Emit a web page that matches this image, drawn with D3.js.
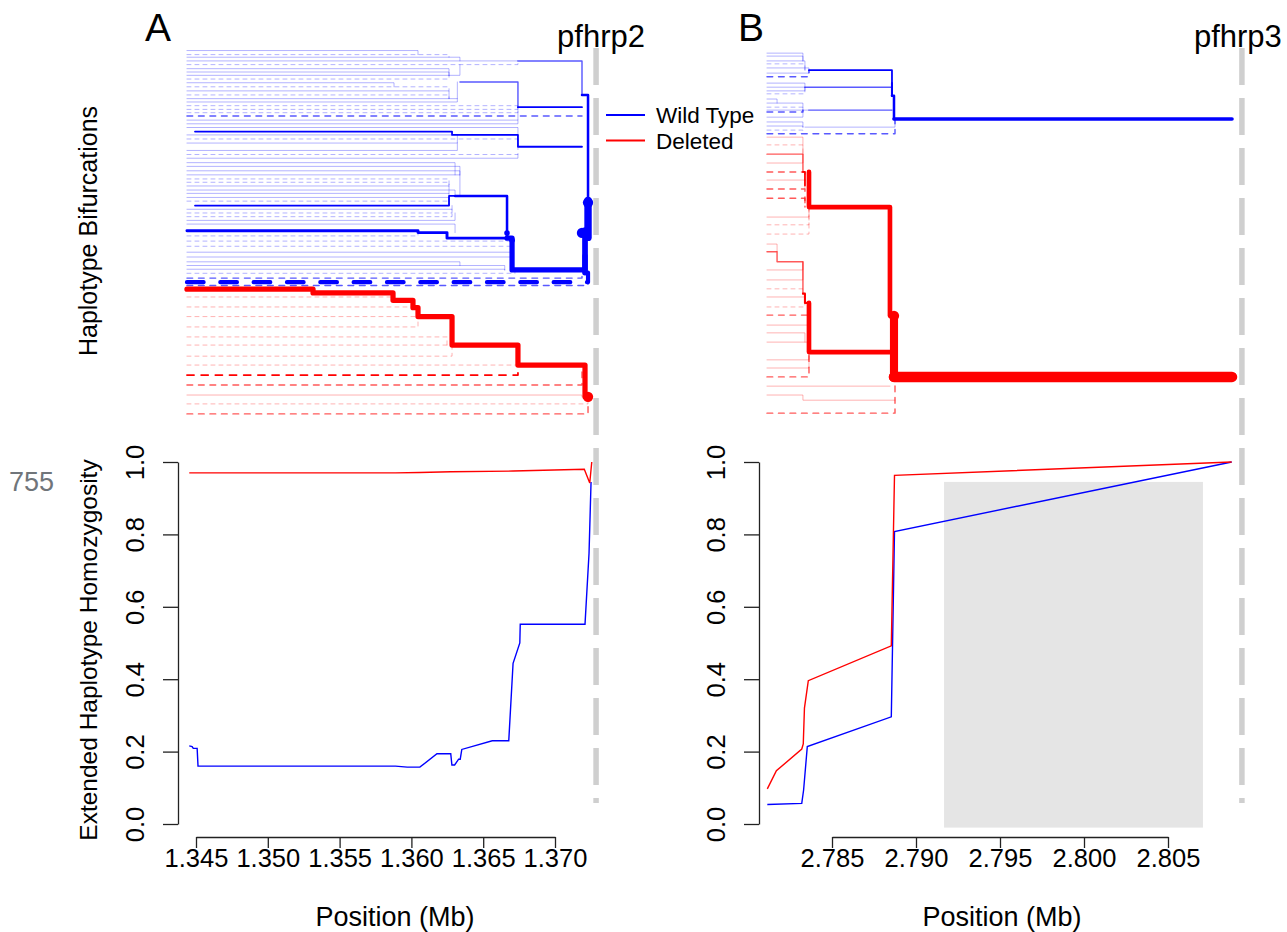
<!DOCTYPE html>
<html><head><meta charset="utf-8">
<script src="https://cdn.jsdelivr.net/npm/d3@7"></script>
<style>
body{margin:0;background:#fff}
svg{display:block}
text{font-family:"Liberation Sans",Arial,Helvetica,sans-serif;fill:#000}
</style>
</head><body>
<svg id="c" width="1287" height="932"></svg>
<script>
// ---------------- DATA ----------------
const startA = 1.34437, startB = 2.78113;     // left end of haplotypes (Mb)
const geneA = 1.37286, geneB = 2.80940;       // pfhrp2 / pfhrp3 position (Mb)
const ticksA = [1.345, 1.350, 1.355, 1.360, 1.365, 1.370];
const ticksB = [2.785, 2.790, 2.795, 2.800, 2.805];
const ehhTicks = [0, 0.2, 0.4, 0.6, 0.8, 1.0];
const groups = ["Wild Type", "Deleted"];
const greyBox = [2.79167, 2.80708, -0.01, 0.945];

// EHH curves [position Mb, EHH]
const ehhA_wt = [[1.34453,0.216],[1.34473,0.214],[1.34481,0.209],[1.34508,0.209],[1.34514,0.160],[1.35889,0.160],[1.35971,0.157],[1.36059,0.157],[1.36178,0.194],[1.36274,0.194],[1.36282,0.163],[1.36301,0.163],[1.36329,0.179],[1.36340,0.179],[1.36351,0.206],[1.36563,0.230],[1.36678,0.230],[1.36708,0.444],[1.36755,0.500],[1.36758,0.552],[1.37209,0.552],[1.37237,0.748],[1.37251,0.945]];
const ehhA_del = [[1.34453,0.970],[1.35889,0.970],[1.36059,0.971],[1.36274,0.973],[1.36708,0.975],[1.37204,0.980],[1.37242,0.942],[1.37256,1.0]];
const ehhB_wt = [[2.78115,0.054],[2.78320,0.057],[2.78331,0.094],[2.78353,0.214],[2.78853,0.296],[2.78872,0.808],[2.80879,1.0]];
const ehhB_del = [[2.78115,0.097],[2.78169,0.147],[2.78320,0.207],[2.78329,0.221],[2.78336,0.320],[2.78359,0.396],[2.78853,0.492],[2.78872,0.963],[2.80879,1.0]];

// Bifurcation leaves: [row, split position Mb, row joined, haplotype count, dashed]
const leavesA_wt = [
[1.5,1.36046,2.6,1,0],[2.6,1.36262,3.3,1,1],[3.3,1.36338,4.3,1,0],[4.3,1.36742,4.3,1,0],[5.3,1.36742,4.3,1,1],
[6.4,1.36262,8.2,1,0],[7.3,1.36262,8.2,1,0],[8.2,1.36338,5.3,1,0],[9.2,1.36262,8.2,1,1],[10.2,1.35879,11.3,1,0],
[11.3,1.36262,12.4,1,1],[12.4,1.36262,14.5,1,0],[13.5,1.36262,14.5,1,1],[14.5,1.36320,10.0,1,0],[15.4,1.36320,14.5,1,0],
[16.4,1.36742,16.8,1,1],[17.4,1.36742,16.8,1,1],[18.3,1.36742,16.8,1,1],[20.3,1.36742,16.8,1,0],[21.3,1.36742,20.3,1,0],
[22.3,1.36742,24.3,1,0],[24.3,1.36742,27.5,1,0],[25.4,1.36742,27.5,1,1],[26.5,1.36320,24.3,1,0],[28.5,1.36320,26.5,1,0],
[29.6,1.36742,27.5,1,1],[30.6,1.36742,29.6,1,0],[31.8,1.36304,35.1,1,0],[32.8,1.36338,35.1,1,0],[34.0,1.36338,35.1,1,0],
[35.1,1.36338,40.8,1,0],[36.2,1.36262,38.1,1,1],[37.1,1.36262,38.1,1,1],[38.1,1.36262,40.1,1,0],[39.2,1.36304,40.8,1,0],
[40.1,1.36262,43.4,1,0],[41.2,1.36262,43.4,1,0],[42.2,1.36262,43.4,1,1],[44.4,1.36283,43.4,1,0],[45.4,1.36283,44.4,1,1],
[46.4,1.36283,44.4,1,1],[47.4,1.36304,45.4,1,0],[48.4,1.36304,50.7,1,0],[51.6,1.36046,50.7,1,1],[53.0,1.36701,55,1,1],
[54.4,1.36701,55,1,1],[56.0,1.36701,57.3,1,0],[57.3,1.36701,60.8,1,0],[58.6,1.36338,59.6,1,0],[59.6,1.36650,60.8,1,0],
[60.6,1.36650,60.8,1,0],[61.7,1.36721,60.8,1,1],[65.0,1.37230,64.1,2,1]
];
const leavesA_del = [
[68.1,1.35872,67,1,1],[70.8,1.36011,69,1,1],[73.4,1.36046,73.4,1,1],[76.2,1.36046,73.4,1,1],[78.9,1.36248,81.1,1,1],
[81.1,1.36283,81.1,1,1],[84.1,1.36283,81.1,1,1],[86.5,1.36742,86.5,1,1],[89.2,1.36742,86.5,3,1],[91.9,1.37188,86.5,2,1],
[94.6,1.37188,95.1,1,0],[97.0,1.37230,95.1,1,1],[99.7,1.37230,95.1,2,1]
];
const branchesA = [
{g:"wt",n:2,dash:0,pts:[[1.36742,4.3],[1.37188,4.3],[1.37188,13.5]]},
{g:"wt",n:2,dash:0,pts:[[1.36338,10],[1.36742,10],[1.36742,16.8]]},
{g:"wt",n:3,dash:0,pts:[[1.36742,16.8],[1.37188,16.8]]},
{g:"wt",n:2,dash:1,pts:[[1.34437,19.2],[1.37188,19.2]]},
{g:"wt",n:3,dash:0,pts:[[1.34493,23.4],[1.36283,23.4],[1.36283,24.3],[1.36742,24.3],[1.36742,27.5],[1.37188,27.5]]},
{g:"wt",n:3,dash:0,pts:[[1.34493,43.4],[1.36262,43.4],[1.36262,40.8],[1.36304,40.8]]},
{g:"wt",n:6,dash:0,pts:[[1.36304,40.8],[1.36666,40.8],[1.36666,52.2]]},
{g:"wt",n:8,dash:0,pts:[[1.34437,50.2],[1.36046,50.2],[1.36046,50.7],[1.36248,50.7],[1.36248,52.2],[1.36666,52.2]]},
{g:"wt",n:25,dash:0,pts:[[1.36666,52.2],[1.36701,52.2],[1.36701,60.8],[1.37209,60.8],[1.37209,57]]},
{g:"wt",n:2,dash:1,pts:[[1.34437,63.0],[1.37188,63.0],[1.37188,61]]},
{g:"wt",n:16,dash:1,pts:[[1.34437,64.1],[1.37230,64.1],[1.37230,61.5]]},
{g:"wt",n:6,dash:0,pts:[[1.37188,13.5],[1.37230,13.5],[1.37230,42]]},
{g:"wt",n:50,dash:0,pts:[[1.37230,42],[1.37230,52]]},
{g:"wt",n:30,dash:0,pts:[[1.37209,50],[1.37209,61.5]]},
{g:"del",n:25,dash:0,pts:[[1.34437,66.0],[1.35315,66.0],[1.35315,67],[1.35872,67],[1.35872,69],[1.36011,69],[1.36011,71],[1.36046,71],[1.36046,73.4],[1.36283,73.4],[1.36283,81.1],[1.36742,81.1],[1.36742,86.5],[1.37209,86.5],[1.37209,95.1]]}
];
// nodes [position, row, group, count]
const nodesA = [[1.37230,42.6,"wt",40],[1.37188,50.8,"wt",40],[1.36666,50.8,"wt",12],[1.36701,52.8,"wt",12],[1.37230,95.1,"del",40]];

const leavesB_wt = [
[2.2,2.78327,4.3,1,0],[3.0,2.78327,4.3,1,0],[4.3,2.78339,6.8,1,0],[5.1,2.78339,6.8,1,1],[6.2,2.78363,6.8,1,0],
[7.6,2.78363,6.8,1,0],[8.6,2.78363,6.8,2,1],[10.3,2.78339,11.4,1,0],[11.4,2.78339,11.4,1,0],[12.4,2.78339,11.4,1,0],
[13.2,2.78339,11.4,1,1],[14.6,2.78173,15.7,1,0],[15.7,2.78327,17.6,1,0],[16.8,2.78327,17.6,1,1],[17.6,2.78363,17.6,1,0],
[18.1,2.78327,17.6,2,1],[19.5,2.78327,17.6,1,0],[20.8,2.78327,22.2,1,0],[21.9,2.78327,22.2,1,0],[23.0,2.78327,24,1,1]
];
const leavesB_del = [
[24.9,2.78327,29.5,1,0],[27.0,2.78327,29.5,1,1],[31.9,2.78327,29.5,1,0],[34.3,2.78339,36.5,2,1],[36.5,2.78339,38.9,1,0],
[38.9,2.78339,43.8,2,1],[41.4,2.78339,43.8,2,1],[46.5,2.78363,43.8,1,0],[48.6,2.78363,43.8,1,1],[51.1,2.78363,43.8,1,1],
[53.8,2.78173,55.9,1,0],[60.8,2.78327,58.6,1,0],[63.5,2.78327,58.6,1,0],[65.9,2.78327,67.2,1,1],[68.1,2.78339,69.7,1,0],
[70.8,2.78339,69.7,1,1],[73.0,2.78363,73.0,2,1],[75.7,2.78363,77.8,1,0],[77.8,2.78339,80.3,1,0],[80.3,2.78363,83,1,0],
[85.1,2.78363,83,1,0],[87.3,2.78363,83,1,0],[89.7,2.78363,83,2,1]
];
const branchesB = [
{g:"wt",n:3,dash:0,pts:[[2.78363,6.8],[2.78857,6.8],[2.78857,10.3]]},
{g:"wt",n:2,dash:0,pts:[[2.78339,11.4],[2.78857,11.4]]},
{g:"wt",n:2,dash:0,pts:[[2.78363,17.6],[2.78857,17.6]]},
{g:"wt",n:1,dash:0,pts:[[2.78339,22.2],[2.78875,22.2],[2.78875,20]]},
{g:"wt",n:2,dash:1,pts:[[2.78113,24],[2.78875,24],[2.78875,20]]},
{g:"wt",n:4,dash:0,pts:[[2.78857,10.3],[2.78857,13.7]]},
{g:"wt",n:6,dash:0,pts:[[2.78857,13.7],[2.78869,13.7],[2.78869,20]]},
{g:"wt",n:12,dash:0,pts:[[2.78869,20],[2.80881,20]]},
{g:"del",n:2,dash:0,pts:[[2.78113,29.5],[2.78327,29.5],[2.78327,34.3]]},
{g:"del",n:3,dash:0,pts:[[2.78327,34.3],[2.78339,34.3],[2.78339,38]]},
{g:"del",n:20,dash:0,pts:[[2.78363,34.3],[2.78363,43.8],[2.78845,43.8],[2.78845,73.2]]},
{g:"del",n:2,dash:0,pts:[[2.78113,55.9],[2.78173,55.9],[2.78173,58.6],[2.78327,58.6],[2.78327,67.2]]},
{g:"del",n:4,dash:0,pts:[[2.78327,67.2],[2.78339,67.2],[2.78339,69.7],[2.78363,69.7]]},
{g:"del",n:20,dash:0,pts:[[2.78363,69.7],[2.78363,83],[2.78845,83]]},
{g:"del",n:60,dash:0,pts:[[2.78869,73.2],[2.78869,89.7]]},
{g:"del",n:100,dash:0,pts:[[2.78869,89.7],[2.80881,89.7]]},
{g:"del",n:1,dash:0,pts:[[2.78113,92.2],[2.78845,92.2]]},
{g:"del",n:1,dash:0,pts:[[2.78113,94.6],[2.78327,94.6],[2.78327,96],[2.78875,96]]},
{g:"del",n:2,dash:1,pts:[[2.78113,99.5],[2.78875,99.5],[2.78875,89.7]]}
];
const nodesB = [[2.78869,73.2,"del",40],[2.78869,89.7,"del",40]];

// ---------------- DRAWING ----------------
const svg = d3.select("#c");
const col = {wt:"#0000ff", del:"#ff0000"};
const xA = d3.scaleLinear().domain([1.345,1.370]).range([196,555]);
const xB = d3.scaleLinear().domain([2.785,2.805]).range([832,1168]);
const yT = d3.scaleLinear().domain([0,100]).range([45,415]);
const yE = d3.scaleLinear().domain([0,1]).range([824,462]);
const wS = d3.scaleSqrt().domain([1,100]).range([1,10.5]);
const oS = d3.scaleLinear().domain([1,3]).range([0.3,1]).clamp(true);

function drawTree(x, start, leaves, branches, nodes){
  const segs = [];
  Object.entries(leaves).forEach(([g,arr]) => arr.forEach(([r,e,j,n,d]) =>
    segs.push({g, n, dash:d, pts:[[start,r],[e,r],[e,j]]})));
  branches.forEach(b => segs.push(b));
  segs.sort((a,b) => a.n - b.n);
  const line = d3.line().x(d => x(d[0])).y(d => yT(d[1]));
  const g = svg.append("g");
  g.selectAll("path").data(segs).join("path")
    .attr("d", d => line(d.pts)).attr("fill","none")
    .attr("stroke", d => col[d.g]).attr("stroke-opacity", d => oS(d.n))
    .attr("stroke-width", d => wS(d.n))
    .attr("stroke-linecap","round").attr("stroke-linejoin","round")
    .attr("stroke-dasharray", d => d.dash ? `${4*wS(d.n)},${4*wS(d.n)}` : null);
  g.selectAll("circle").data(nodes).join("circle")
    .attr("cx", d => x(d[0])).attr("cy", d => yT(d[1]))
    .attr("r", d => wS(d[3])*0.78).attr("fill", d => col[d[2]]);
}

function drawEhh(x, ticks, axisX, wt, del){
  const g = svg.append("g");
  const line = d3.line().x(d => x(d[0])).y(d => yE(d[1]));
  g.append("path").attr("d", line(wt)).attr("fill","none").attr("stroke",col.wt).attr("stroke-width",1.4);
  g.append("path").attr("d", line(del)).attr("fill","none").attr("stroke",col.del).attr("stroke-width",1.4);
  const ya = g.append("g").attr("transform",`translate(${axisX},0)`)
    .call(d3.axisLeft(yE).tickValues(ehhTicks).tickSize(15).tickSizeOuter(0).tickFormat(d3.format(".1f")));
  ya.selectAll("text").attr("x",null).attr("dy",null)
    .attr("transform","translate(-34,0) rotate(-90)").attr("text-anchor","middle");
  const xa = g.append("g").attr("transform",`translate(0,837)`)
    .call(d3.axisBottom(x).tickValues(ticks).tickSize(11).tickSizeOuter(0).tickFormat(d3.format(".3f")));
  xa.selectAll("text").attr("y",30).attr("dy",null);
  [ya,xa].forEach(a => {
    a.attr("font-size",25.5).attr("font-family",null);
    a.selectAll("path,line").attr("stroke","#222").attr("stroke-width",1.3);
    a.selectAll("text").attr("fill","#111");
  });
}

// grey region (panel B)
svg.append("rect").attr("x",xB(greyBox[0])).attr("width",xB(greyBox[1])-xB(greyBox[0]))
  .attr("y",yE(greyBox[3])).attr("height",yE(greyBox[2])-yE(greyBox[3])).attr("fill","#e5e5e5");

drawTree(xA, startA, {wt:leavesA_wt, del:leavesA_del}, branchesA, nodesA);
drawTree(xB, startB, {wt:leavesB_wt, del:leavesB_del}, branchesB, nodesB);
drawEhh(xA, ticksA, 178, ehhA_wt, ehhA_del);
drawEhh(xB, ticksB, 759, ehhB_wt, ehhB_del);

// gene positions
[[xA,geneA,"pfhrp2",5],[xB,geneB,"pfhrp3",-4]].forEach(([x,p,name,dx]) => {
  svg.append("line").attr("x1",x(p)).attr("x2",x(p)).attr("y1",yT(0.8)).attr("y2",yE(0.058))
    .attr("stroke","#cfcfcf").attr("stroke-width",5.5).attr("stroke-dasharray","37,13");
  svg.append("text").attr("x",x(p)+dx).attr("y",47).attr("text-anchor","middle").attr("font-size",31).text(name);
});

// panel letters
svg.append("text").attr("x",145).attr("y",41).attr("font-size",39).text("A");
svg.append("text").attr("x",738).attr("y",41).attr("font-size",39).text("B");

// axis titles
svg.append("text").attr("transform","translate(97,231) rotate(-90)").attr("text-anchor","middle").attr("font-size",25).text("Haplotype Bifurcations");
svg.append("text").attr("transform","translate(97,650) rotate(-90)").attr("text-anchor","middle").attr("font-size",24.5).text("Extended Haplotype Homozygosity");
svg.append("text").attr("x",395).attr("y",926).attr("text-anchor","middle").attr("font-size",27).text("Position (Mb)");
svg.append("text").attr("x",1002).attr("y",926).attr("text-anchor","middle").attr("font-size",27).text("Position (Mb)");

// stray label
svg.append("text").attr("x",9).attr("y",491).attr("font-size",27).attr("font-family","Roboto").style("fill","#70757a").text("755");

// legend
const leg = svg.append("g");
groups.forEach((name,i) => {
  const c = i === 0 ? col.wt : col.del;
  const yy = 115 + i*25.5;
  leg.append("line").attr("x1",606).attr("x2",645).attr("y1",yy).attr("y2",yy).attr("stroke",c).attr("stroke-width",2);
  leg.append("text").attr("x",656).attr("y",yy+8).attr("font-size",22.5).text(name);
});
</script>
</body></html>
